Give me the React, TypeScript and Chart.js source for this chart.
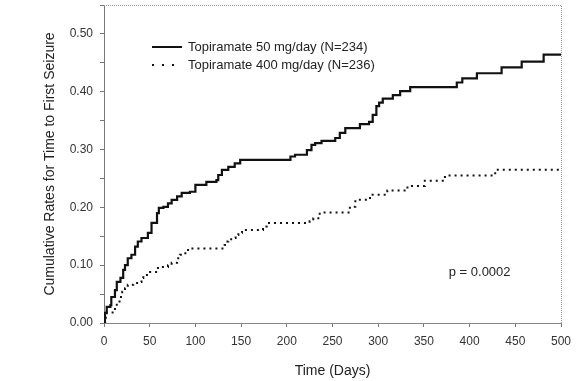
import React, { useEffect, useRef } from "react";
import { Chart, registerables } from "chart.js";
Chart.register(...registerables);

const solidDays = [0, 1, 3, 7, 8, 12, 14, 18, 21, 23, 26, 30, 34, 37, 41, 48, 52, 58, 60, 65, 70, 74, 80, 85, 94, 100, 112, 123, 125, 129, 136, 143, 149, 204, 209, 222, 227, 231, 238, 253, 258, 264, 280, 290, 294, 298, 301, 305, 316, 324, 335, 386, 392, 408, 435, 457, 481, 500];
const solidRates = [0, 0.017, 0.028, 0.031, 0.045, 0.057, 0.071, 0.078, 0.092, 0.1, 0.112, 0.118, 0.132, 0.141, 0.147, 0.156, 0.173, 0.19, 0.199, 0.201, 0.207, 0.213, 0.219, 0.225, 0.227, 0.239, 0.244, 0.247, 0.256, 0.265, 0.27, 0.276, 0.282, 0.288, 0.291, 0.299, 0.308, 0.311, 0.315, 0.32, 0.329, 0.337, 0.344, 0.348, 0.36, 0.375, 0.381, 0.388, 0.394, 0.401, 0.408, 0.416, 0.423, 0.432, 0.442, 0.452, 0.464, 0.464];

const dottedDays = [0, 2, 12, 14, 17, 20, 23, 26, 32, 39, 41, 43, 47, 48, 59, 70, 74, 80, 83, 89, 92, 132, 134, 136, 141, 144, 147, 151, 174, 178, 225, 229, 236, 269, 275, 291, 310, 332, 351, 373, 428, 500];
const dottedRates = [0, 0.018, 0.028, 0.035, 0.045, 0.054, 0.06, 0.066, 0.069, 0.071, 0.078, 0.083, 0.086, 0.088, 0.097, 0.1, 0.104, 0.112, 0.118, 0.123, 0.129, 0.135, 0.141, 0.145, 0.147, 0.152, 0.156, 0.161, 0.167, 0.173, 0.176, 0.181, 0.191, 0.201, 0.213, 0.222, 0.229, 0.237, 0.246, 0.255, 0.265, 0.265];

const seriesLabels = ["Topiramate 50 mg/day (N=234)", "Topiramate 400 mg/day (N=236)"];
const xTitle = "Time (Days)";
const yTitle = "Cumulative Rates for Time to First Seizure";
const pValueText = "p = 0.0002";
const pValueAt = { day: 411, rate: 0.088 };

const FONT = "'Liberation Sans', Arial, Helvetica, sans-serif";

const overlayPlugin = {
  id: "overlay",
  beforeDatasetsDraw(chart: any) {
    const { ctx, chartArea } = chart;
    ctx.save();
    ctx.strokeStyle = "#9a9a9a";
    ctx.lineWidth = 1;
    ctx.setLineDash([1, 1]);
    ctx.beginPath();
    ctx.moveTo(chartArea.left, chartArea.top + 0.5);
    ctx.lineTo(chartArea.right + 0.5, chartArea.top + 0.5);
    ctx.lineTo(chartArea.right + 0.5, chartArea.bottom);
    ctx.stroke();
    ctx.restore();
  },
  afterDraw(chart: any) {
    const { ctx, chartArea, scales } = chart;
    ctx.save();
    ctx.font = `13px ${FONT}`;
    ctx.fillStyle = "#222";
    ctx.textBaseline = "middle";
    const lx0 = chartArea.left + 48;
    const lx1 = lx0 + 30;
    const tx = lx1 + 6;
    const rows = [chartArea.top + 42, chartArea.top + 60];
    ctx.strokeStyle = "#111";
    ctx.lineWidth = 2;
    ctx.setLineDash([]);
    ctx.beginPath();
    ctx.moveTo(lx0, rows[0]);
    ctx.lineTo(lx1, rows[0]);
    ctx.stroke();
    ctx.setLineDash([2, 8]);
    ctx.beginPath();
    ctx.moveTo(lx0, rows[1]);
    ctx.lineTo(lx1, rows[1]);
    ctx.stroke();
    ctx.setLineDash([]);
    ctx.textAlign = "left";
    ctx.fillText(seriesLabels[0], tx, rows[0]);
    ctx.fillText(seriesLabels[1], tx, rows[1]);
    ctx.textAlign = "center";
    ctx.fillText(pValueText, scales.x.getPixelForValue(pValueAt.day), scales.y.getPixelForValue(pValueAt.rate));
    ctx.restore();
  },
};

export default function App() {
  const ref = useRef<HTMLCanvasElement | null>(null);
  useEffect(() => {
    document.body.style.margin = "0";
    document.body.style.background = "#fff";
    const solid = solidDays.map((d, i) => ({ x: d, y: solidRates[i] }));
    const dotted = dottedDays.map((d, i) => ({ x: d, y: dottedRates[i] }));
    const chart = new Chart(ref.current as HTMLCanvasElement, {
      type: "line",
      data: {
        datasets: [
          {
            label: seriesLabels[0],
            data: solid,
            borderColor: "#111",
            borderWidth: 2.2,
            stepped: true,
            pointRadius: 0,
            fill: false,
          },
          {
            label: seriesLabels[1],
            data: dotted,
            borderColor: "#111",
            borderWidth: 2,
            borderDash: [2, 4],
            stepped: true,
            pointRadius: 0,
            fill: false,
          },
        ],
      },
      options: {
        animation: false,
        responsive: false,
        devicePixelRatio: 1,
        layout: { padding: { top: 5, right: 16, left: 0, bottom: 0 } },
        plugins: { legend: { display: false }, tooltip: { enabled: false } },
        scales: {
          x: {
            type: "linear",
            min: 0,
            max: 500,
            ticks: {
              stepSize: 50,
              color: "#333",
              font: { size: 12, family: FONT },
              padding: 7,
              maxRotation: 0,
              autoSkip: false,
            },
            grid: { display: true, drawOnChartArea: false, drawTicks: true, tickLength: 4, color: "#777" },
            border: { display: true, color: "#888", width: 1, dash: [2, 1] },
            title: {
              display: true,
              text: xTitle,
              color: "#222",
              font: { size: 14, family: FONT },
              padding: { top: 0, bottom: 1 },
            },
            afterFit(scale: any) {
              scale.height = 58;
              scale.paddingLeft = 0;
              scale.paddingRight = 0;
            },
          },
          y: {
            type: "linear",
            min: 0,
            max: 0.55,
            ticks: {
              stepSize: 0.05,
              autoSkip: false,
              color: "#333",
              font: { size: 12, family: FONT },
              padding: 7,
              callback: (v: any) => {
                const r = Math.round(Number(v) * 100);
                return r % 10 === 0 ? (r / 100).toFixed(2) : "";
              },
            },
            grid: { display: true, drawOnChartArea: false, drawTicks: true, tickLength: 4, color: "#777" },
            border: { display: true, color: "#777", width: 1 },
            title: {
              display: true,
              text: yTitle,
              color: "#222",
              font: { size: 14, family: FONT },
              padding: { top: 42, bottom: 0 },
            },
            afterFit(scale: any) {
              scale.width = 104;
              scale.paddingTop = 0;
              scale.paddingBottom = 0;
            },
          },
        },
      },
      plugins: [overlayPlugin],
    });
    return () => chart.destroy();
  }, []);
  return (
    <div style={{ width: 577, height: 381, background: "#fff" }}>
      <canvas ref={ref} width={577} height={381} style={{ display: "block" }} />
    </div>
  );
}
